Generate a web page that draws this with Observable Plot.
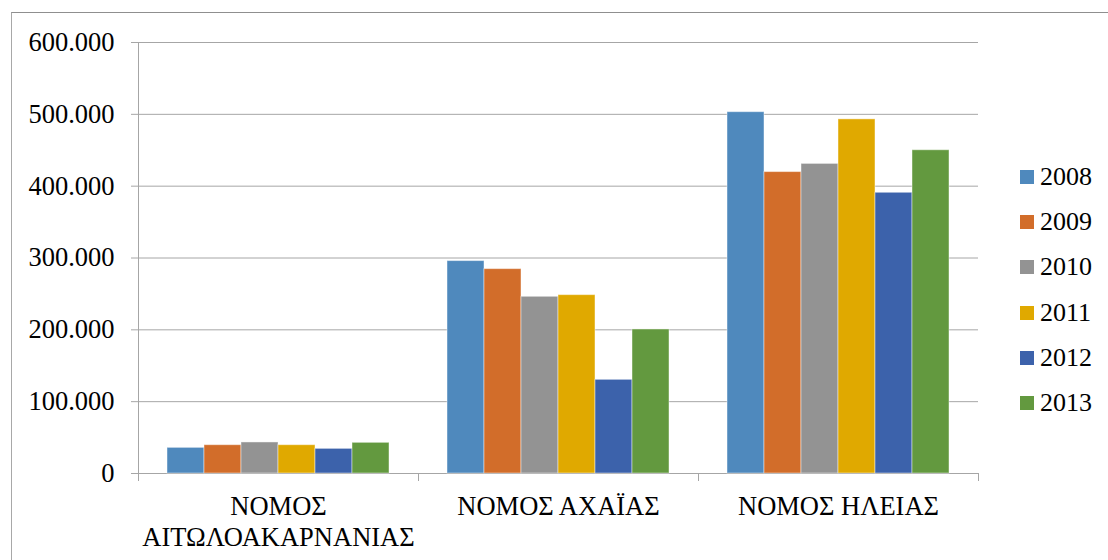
<!DOCTYPE html>
<html>
<head>
<meta charset="utf-8">
<script src="https://cdn.jsdelivr.net/npm/d3@7"></script>
<script src="https://cdn.jsdelivr.net/npm/@observablehq/plot@0.6"></script>
<style>
  html, body { margin: 0; padding: 0; background: #fff; }
  #wrap { position: relative; width: 1108px; height: 560px; overflow: hidden; font-family: "Liberation Serif", "Tinos", "DejaVu Serif", serif; }
  #border { position: absolute; left: 11px; top: 12px; width: 1200px; height: 700px; border-top: 1px solid #8f8f8f; border-left: 1px solid #a8a8a8; }
  #chart { position: absolute; left: 0; top: 0; }
  #legend { position: absolute; left: 1020px; top: 0; }
  .li { position: absolute; left: 0; width: 90px; height: 30px; display: flex; align-items: center; font-size: 26px; color: #000; white-space: nowrap; }
  .sw { width: 14px; height: 14px; margin-right: 6px; flex: none; }
</style>
</head>
<body>
<div id="wrap">
  <div id="border"></div>
  <div id="chart"></div>
  <div id="legend"></div>
</div>
<script>
const regions = ["ΝΟΜΟΣ ΑΙΤΩΛΟΑΚΑΡΝΑΝΙΑΣ", "ΝΟΜΟΣ ΑΧΑΪΑΣ", "ΝΟΜΟΣ ΗΛΕΙΑΣ"];
const regionLabels = ["ΝΟΜΟΣ\nΑΙΤΩΛΟΑΚΑΡΝΑΝΙΑΣ", "ΝΟΜΟΣ ΑΧΑΪΑΣ", "ΝΟΜΟΣ ΗΛΕΙΑΣ"];
const years = ["2008", "2009", "2010", "2011", "2012", "2013"];
const values2008 = [35700, 295700, 503000];
const values2009 = [39400, 284500, 419600];
const values2010 = [43200, 246000, 431000];
const values2011 = [39400, 248300, 493000];
const values2012 = [34300, 130400, 390800];
const values2013 = [42700, 200500, 450000];
const yTicks = [0, 100000, 200000, 300000, 400000, 500000, 600000];
const colors = ["#4f89bd", "#d26d2a", "#939393", "#e0a900", "#3c62ab", "#63993f"];

const series = [values2008, values2009, values2010, values2011, values2012, values2013];
const rows = regions.flatMap((r, i) => years.map((y, j) => ({region: r, year: y, value: series[j][i]})));

const fmt = d3.formatLocale({decimal: ",", thousands: ".", grouping: [3], currency: ["", "€"]}).format(",");

const chart = Plot.plot({
  width: 1108,
  height: 560,
  marginLeft: 137,
  marginRight: 130,
  marginTop: 42,
  marginBottom: 87,
  style: {fontFamily: "'Liberation Serif', 'Tinos', 'DejaVu Serif', serif", fontSize: "26.5px", color: "#000", background: "transparent", overflow: "visible"},
  fx: {domain: regions, padding: 0, label: null, axis: null},
  x: {domain: years, paddingInner: 0, paddingOuter: 0.75, axis: null},
  y: {domain: [0, 600000], label: null, axis: null},
  color: {domain: years, range: colors},
  marks: [
    Plot.gridY(yTicks, {stroke: "#a6a6a6", strokeOpacity: 1, strokeWidth: 1}),
    Plot.barY(rows, {fx: "region", x: "year", y: "value", fill: "year", stroke: "#ffffff", strokeOpacity: 0.45, strokeWidth: 1}),
    Plot.axisY(yTicks, {tickSize: 7, tickPadding: 17, tickFormat: fmt, stroke: "#a6a6a6", fill: "#000", label: null}),
    Plot.axisFx({anchor: "bottom", tickSize: 0, tickPadding: 20, tickFormat: d => regionLabels[regions.indexOf(d)], lineHeight: 1.15, fill: "#000", label: null})
  ]
});
document.getElementById("chart").appendChild(chart);

// left axis line and category boundary ticks, from the plot's own scales
const fx = chart.scale("fx");
const ys = chart.scale("y");
const svg = d3.select(chart);
const y0 = ys.apply(0), yTop = ys.apply(600000);
const g = svg.append("g").attr("stroke", "#a6a6a6").attr("stroke-width", 1);
const left = fx.apply(regions[0]);
g.append("line").attr("x1", left + 0.5).attr("x2", left + 0.5).attr("y1", yTop).attr("y2", y0 + 7);
const bounds = regions.map(r => fx.apply(r)).concat([fx.apply(regions[regions.length - 1]) + fx.bandwidth]);
bounds.forEach(b => {
  g.append("line").attr("x1", b + 0.5).attr("x2", b + 0.5).attr("y1", y0).attr("y2", y0 + 8);
});

// legend built from the color scale
const cs = chart.scale("color");
const legend = d3.select("#legend");
const rowTop = 177 - 15, rowStep = 45.2;
years.forEach((y, i) => {
  const item = legend.append("div").attr("class", "li").style("top", (rowTop + i * rowStep) + "px");
  item.append("div").attr("class", "sw").style("background", cs.apply(y));
  item.append("span").text(y);
});
</script>
</body>
</html>
